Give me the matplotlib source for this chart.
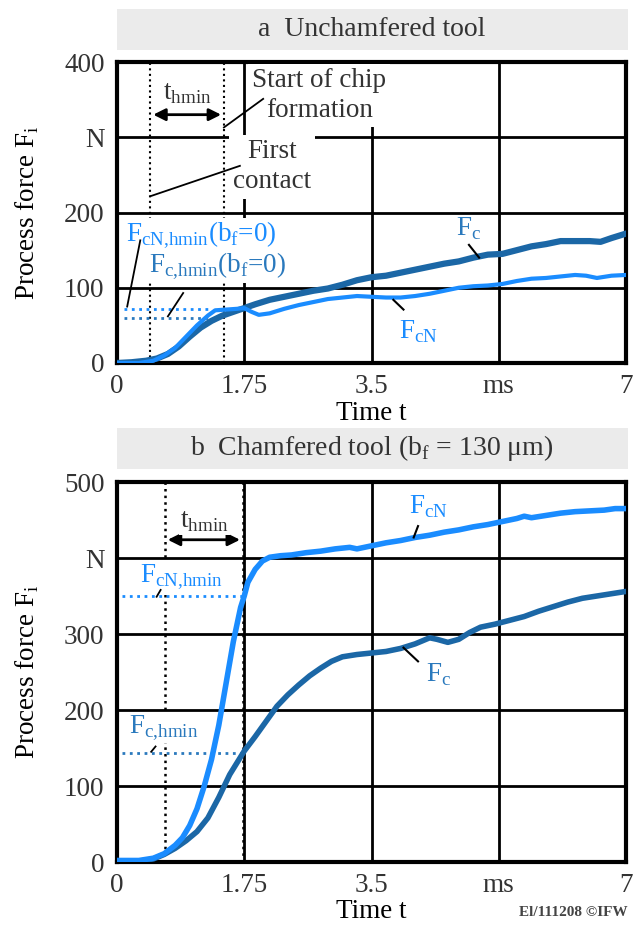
# Process forces for unchamfered and chamfered tool.

import matplotlib.pyplot as plt
from matplotlib.patches import Rectangle

plt.rcParams['font.family'] = ['Liberation Serif', 'DejaVu Serif']
plt.rcParams['text.color'] = '#333333'

DARK = '#1b67a6'
BRIGHT = '#1a8cff'
MID = '#2a79bd'

# --- data ---
x_ticks = [0, 1.75, 3.5, 5.25, 7]
x_labels = ['0', '1.75', '3.5', 'ms', '7']

a_ticks = [0, 100, 200, 300, 400]
a_labels = ['0', '100', '200', 'N', '400']
b_ticks = [0, 100, 200, 300, 400, 500]
b_labels = ['0', '100', '200', '300', 'N', '500']

a_fc_t = [0, 0.2, 0.4, 0.55, 0.7, 0.85, 1.0, 1.15, 1.3, 1.45, 1.6, 1.75, 1.9, 2.1,
          2.3, 2.5, 2.7, 2.9, 3.1, 3.3, 3.5, 3.7, 3.9, 4.1, 4.3, 4.5, 4.7, 4.9,
          5.1, 5.3, 5.5, 5.7, 5.9, 6.1, 6.3, 6.5, 6.65, 6.8, 7.0]
a_fc = [0, 1, 3, 6, 12, 22, 35, 47, 56, 63, 68, 73, 78, 84,
        88, 92, 96, 99, 104, 110, 114, 116, 120, 124, 128, 132, 135, 140,
        144, 145, 150, 155, 158, 162, 162, 162, 161, 166, 172]

a_fcn_t = [0, 0.3, 0.5, 0.65, 0.8, 0.95, 1.1, 1.25, 1.35, 1.5, 1.65, 1.75, 1.85,
           1.95, 2.1, 2.3, 2.5, 2.7, 2.9, 3.1, 3.3, 3.5, 3.7, 3.9, 4.1, 4.3,
           4.5, 4.7, 4.9, 5.1, 5.3, 5.5, 5.7, 5.9, 6.1, 6.3, 6.45, 6.6, 6.8, 7.0]
a_fcn = [0, 0, 3, 10, 20, 35, 50, 63, 70, 71, 72, 73, 68,
         64, 66, 72, 77, 81, 85, 87, 89, 88, 87, 87, 89, 92,
         96, 100, 102, 103, 105, 109, 112, 113, 115, 117, 116, 113, 116, 117]

b_fcn_t = [0, 0.3, 0.5, 0.65, 0.8, 0.9, 1.0, 1.1, 1.2, 1.3, 1.4, 1.5, 1.6, 1.7,
           1.75, 1.8, 1.9, 2.0, 2.1, 2.25, 2.4, 2.6, 2.8, 3.0, 3.2, 3.3, 3.5,
           3.7, 3.9, 4.1, 4.3, 4.5, 4.7, 4.9, 5.1, 5.3, 5.5, 5.6, 5.7, 5.9,
           6.1, 6.3, 6.5, 6.7, 6.85, 7.0]
b_fcn = [2, 2, 5, 11, 22, 32, 48, 70, 100, 135, 180, 235, 290, 335,
         350, 368, 385, 396, 401, 403, 404, 407, 409, 412, 414, 412, 416,
         420, 423, 427, 430, 434, 437, 441, 444, 448, 452, 455, 453, 456,
         459, 461, 462, 463, 465, 465]

b_fc_t = [0, 0.3, 0.5, 0.65, 0.8, 0.95, 1.1, 1.25, 1.4, 1.55, 1.75, 1.9, 2.05,
          2.2, 2.35, 2.5, 2.65, 2.8, 2.95, 3.1, 3.3, 3.5, 3.7, 3.9, 4.1, 4.3,
          4.4, 4.55, 4.7, 4.85, 5.0, 5.2, 5.4, 5.6, 5.8, 6.0, 6.2, 6.4, 6.6,
          6.8, 7.0]
b_fc = [0, 1, 4, 10, 18, 28, 40, 58, 85, 115, 146, 165, 185,
        205, 220, 233, 245, 255, 264, 270, 273, 275, 277, 281, 287, 295,
        293, 289, 293, 302, 309, 313, 318, 323, 330, 336, 342, 347, 350,
        353, 356]

W, H = 638, 925
fig = plt.figure(figsize=(W / 100, H / 100), dpi=100)


def fx(px):
    return px / W


def fy(py):
    return 1 - py / H


def title_box(y0, y1, text):
    fig.patches.append(Rectangle((fx(117), fy(y1)), fx(628) - fx(117), fy(y0) - fy(y1),
                                 transform=fig.transFigure, facecolor='#ebebeb',
                                 edgecolor='none'))
    fig.text(fx(372), fy((y0 + y1) / 2), text, ha='center', va='center', fontsize=20)


def setup(ax, yticks, ylabels, ymax):
    ax.set_xlim(0, 7)
    ax.set_ylim(0, ymax)
    ax.set_xticks(x_ticks)
    ax.set_xticklabels(x_labels)
    ax.set_yticks(yticks)
    ax.set_yticklabels(ylabels)
    ax.tick_params(length=0, labelsize=19.5, colors='#333333')
    ax.tick_params(axis='x', pad=8)
    ax.tick_params(axis='y', pad=9)
    ax.grid(True, color='black', lw=2)
    ax.set_axisbelow(True)
    for s in ax.spines.values():
        s.set_linewidth(3)
    ax.set_xlabel('Time t', fontsize=19.5, labelpad=1)
    ax.set_ylabel(r'Process force F$_\mathregular{i}$', fontsize=19.5)
    ax.yaxis.set_label_coords(-0.15, 0.5)


WHITE = dict(facecolor='white', edgecolor='none', pad=1)
WHITE4 = dict(facecolor='white', edgecolor='none', pad=3)

# ---------- a ----------
title_box(9, 50, 'a  Unchamfered tool')
ax1 = fig.add_axes([fx(117), fy(363), fx(626) - fx(117), fy(62) - fy(363)])
setup(ax1, a_ticks, a_labels, 400)

for xv in [0.46, 1.47]:
    ax1.axvline(xv, color='black', ls=':', lw=1.5, zorder=3)
ax1.plot([0.1, 1.3], [72, 72], ls=':', color=BRIGHT, lw=2, zorder=3)
ax1.plot([0.1, 1.35], [60, 60], ls=':', color=MID, lw=2, zorder=3)

ax1.annotate('', xy=(0.46, 330), xytext=(1.47, 330),
             arrowprops=dict(arrowstyle='<|-|>', color='black', lw=2, mutation_scale=18))
ax1.text(0.97, 358, r't$_\mathregular{hmin}$', ha='center', va='center', fontsize=19.5,
         bbox=WHITE, zorder=4)

ax1.text(2.78, 355, 'Start of chip\nformation', ha='center', va='center', fontsize=19.5,
         linespacing=1.25, bbox=WHITE4, zorder=4)
ax1.plot([1.47, 2.01], [313, 351], color='black', lw=1.3, zorder=5)

ax1.text(2.13, 261, 'First\ncontact', ha='center', va='center', fontsize=19.5,
         linespacing=1.3, bbox=WHITE4, zorder=4)
ax1.plot([0.47, 1.69], [222, 262], color='black', lw=1.3, zorder=5)

ax1.text(1.16, 171, r'F$_\mathregular{cN{,}hmin}$(b$_\mathregular{f}$=0)', ha='center',
         va='center', fontsize=19.5, color=BRIGHT, bbox=WHITE, zorder=4)
ax1.plot([0.32, 0.14], [163, 75], color='black', lw=1.3, zorder=5)
ax1.text(1.38, 129, r'F$_\mathregular{c{,}hmin}$(b$_\mathregular{f}$=0)', ha='center',
         va='center', fontsize=19.5, color=MID, bbox=WHITE, zorder=4)
ax1.plot([0.91, 0.70], [93, 62], color='black', lw=1.3, zorder=5)

ax1.plot(a_fc_t, a_fc, color=DARK, lw=4.5, zorder=6, solid_capstyle='round')
ax1.plot(a_fcn_t, a_fcn, color=BRIGHT, lw=3, zorder=6, solid_capstyle='round')

ax1.text(4.84, 178, r'F$_\mathregular{c}$', ha='center', va='center', fontsize=19.5, color=MID)
ax1.plot([4.84, 4.98], [157, 140], color='black', lw=1.5, zorder=7)
ax1.text(4.14, 42, r'F$_\mathregular{cN}$', ha='center', va='center', fontsize=19.5, color=BRIGHT)
ax1.plot([3.8, 3.94], [84, 71], color='black', lw=1.5, zorder=7)

# ---------- b ----------
title_box(428, 469, r'b  Chamfered tool (b$_\mathregular{f}$ = 130 μm)')
ax2 = fig.add_axes([fx(117), fy(862), fx(626) - fx(117), fy(482) - fy(862)])
setup(ax2, b_ticks, b_labels, 500)

for xv in [0.66, 1.73]:
    ax2.axvline(xv, color='black', ls=':', lw=1.8, zorder=3)
ax2.plot([0.07, 1.74], [350, 350], ls=':', color=BRIGHT, lw=2, zorder=3)
ax2.plot([0.07, 1.74], [144, 144], ls=':', color=MID, lw=2, zorder=3)

ax2.annotate('', xy=(0.66, 424), xytext=(1.73, 424),
             arrowprops=dict(arrowstyle='<|-|>', color='black', lw=2, mutation_scale=18))
ax2.text(1.2, 448, r't$_\mathregular{hmin}$', ha='center', va='center', fontsize=19.5,
         bbox=WHITE, zorder=4)

ax2.text(0.88, 375, r'F$_\mathregular{cN{,}hmin}$', ha='center', va='center', fontsize=19.5,
         color=BRIGHT, bbox=WHITE, zorder=4)
ax2.plot([0.545, 0.6], [349, 358], color='black', lw=1.3, zorder=5)
ax2.text(0.64, 177, r'F$_\mathregular{c{,}hmin}$', ha='center', va='center', fontsize=19.5,
         color=MID, bbox=WHITE, zorder=4)
ax2.plot([0.47, 0.53], [145, 152], color='black', lw=1.3, zorder=5)

ax2.plot(b_fc_t, b_fc, color=DARK, lw=4, zorder=6, solid_capstyle='round')
ax2.plot(b_fcn_t, b_fcn, color=BRIGHT, lw=4, zorder=6, solid_capstyle='round')

ax2.text(4.28, 467, r'F$_\mathregular{cN}$', ha='center', va='center', fontsize=19.5, color=BRIGHT)
ax2.plot([4.08, 4.14], [427, 442], color='black', lw=1.5, zorder=7)
ax2.text(4.42, 247, r'F$_\mathregular{c}$', ha='center', va='center', fontsize=19.5, color=MID)
ax2.plot([3.94, 4.14], [282, 264], color='black', lw=1.5, zorder=7)

fig.text(fx(628), fy(913), 'El/111208 ©IFW', ha='right', va='center', fontsize=11,
         fontweight='bold', color='#444444')

fig.savefig('out.png', dpi=100)
